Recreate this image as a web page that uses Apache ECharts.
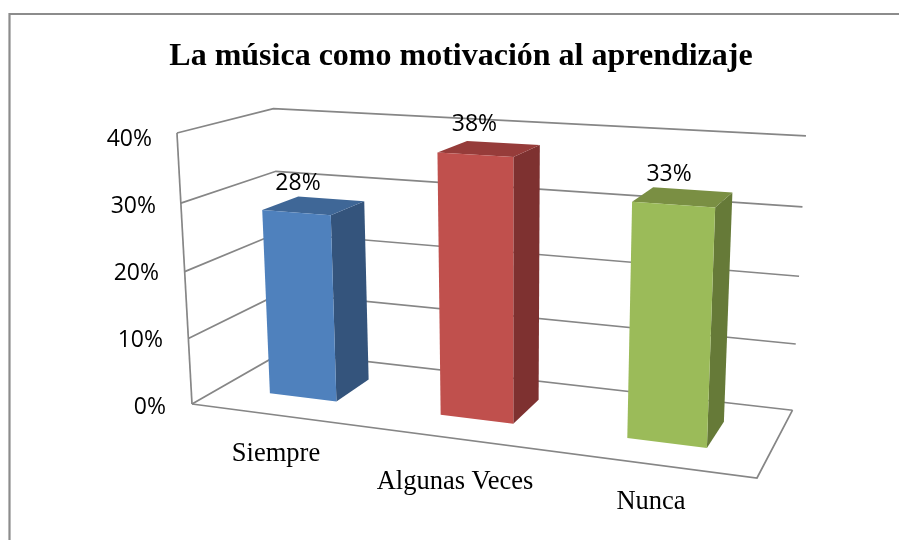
<!DOCTYPE html>
<html>
<head>
<meta charset="utf-8">
<style>html,body{margin:0;padding:0;background:#fff}#c{width:899px;height:540px}</style>
<script src="https://cdn.jsdelivr.net/npm/echarts@6/dist/echarts.min.js"></script>
</head>
<body>
<div id="c"></div>
<script>
// ---- data ----
const titleText = 'La música como motivación al aprendizaje';
const categories = ['Siempre', 'Algunas Veces', 'Nunca'];
const values = [0.28, 0.38, 0.33];
const valueLabels = ['28%', '38%', '33%'];
const yTicks = [0, 0.1, 0.2, 0.3, 0.4];
const yTickLabels = ['0%', '10%', '20%', '30%', '40%'];

// ---- palette ----
const frontColors = ['#4F81BD', '#C0504D', '#9BBB59'];
const sideColors = ['#34547C', '#7E3130', '#667A38'];
const topColors = ['#3F6797', '#963C3A', '#7A8F43'];
const lineGray = '#868686';
const labelFont = 'Open Sans';
const labelSize = 23;

// ---- layout ----
const grid = {left: 170, top: 138, width: 600, height: 268};
const yLabelPadRight = [0, 3, 7, 10, 14];
const xLabelShift = [6, -15, -19];
const xLabelDrop = [35, 63, 83];
const barWidthRatio = 0.4;
const depthFront = 0.3, depthBack = 0.7;
const valueLabelShift = [[-16, -22], [-15, -24], [-14, -23]];

// Perspective: homogeneous origin + u*U + v*V + w*W for the flat grid's
// normalised position (u, v) and a depth w into the scene.
const O = [192, 404, 1];
const U = [466.2, 11.6, -0.1305];
const V = [-23.0, -277.0, -0.045];
const W = [124.4, -10.5, 0.118];
function project(u, v, w) {
  const h = [0, 1, 2].map(i => O[i] + u * U[i] + v * V[i] + w * W[i]);
  return [h[0] / h[2], h[1] / h[2]];
}
function toUV(p) {
  return [(p[0] - grid.left) / grid.width, (grid.top + grid.height - p[1]) / grid.height];
}
const lineStyle = {stroke: lineGray, lineWidth: 1.7, fill: null};
const poly = (pts, style) => ({type: 'polygon', shape: {points: pts}, style});
const path = pts => ({type: 'polyline', shape: {points: pts}, style: lineStyle});

function renderWalls(params, api) {
  const yVal = api.value(0);
  const v = toUV(api.coord([0, yVal]))[1];
  const children = [path([project(0, v, 0), project(0, v, 1), project(1, v, 1)])];
  if (params.dataIndex === yTicks.length - 1) {
    children.push(path([project(0, 0, 0), project(0, 1, 0)]));
  }
  if (params.dataIndex === 0) {
    children.push(path([project(0, 0, 0), project(1, 0, 0), project(1, 0, 1)]));
  }
  return {type: 'group', children};
}

function renderBar(params, api) {
  const i = api.value(0);
  const base = toUV(api.coord([i, 0]));
  const top = toUV(api.coord([i, api.value(1)]));
  const half = toUV([grid.left + api.size([1, 0])[0] * barWidthRatio / 2, 0])[0];
  const u0 = base[0] - half, u1 = base[0] + half;
  const v0 = base[1], v1 = top[1];
  const w0 = depthFront, w1 = depthBack;
  const label = project(base[0], v1, (w0 + w1) / 2);
  return {type: 'group', children: [
    poly([project(u1, v0, w0), project(u1, v0, w1), project(u1, v1, w1), project(u1, v1, w0)], {fill: sideColors[i]}),
    poly([project(u0, v1, w0), project(u1, v1, w0), project(u1, v1, w1), project(u0, v1, w1)], {fill: topColors[i]}),
    poly([project(u0, v0, w0), project(u1, v0, w0), project(u1, v1, w0), project(u0, v1, w0)], {fill: frontColors[i]}),
    {type: 'text', x: label[0] + valueLabelShift[i][0], y: label[1] + valueLabelShift[i][1],
     style: {text: valueLabels[i], fill: '#000', font: labelSize + 'px "' + labelFont + '"', align: 'center', verticalAlign: 'middle'}}
  ]};
}

const yRich = {};
yLabelPadRight.forEach((p, i) => { yRich['t' + i] = {padding: [2, p, 0, 0], fontFamily: labelFont, fontSize: labelSize, color: '#000'}; });
const xRich = {};
categories.forEach((c, i) => {
  const s = xLabelShift[i];
  xRich['c' + i] = {
    padding: [xLabelDrop[i], s < 0 ? -2 * s : 0, 0, s > 0 ? 2 * s : 0],
    fontFamily: 'Liberation Serif', fontSize: 26.5, color: '#000'
  };
});

const chart = echarts.init(document.getElementById('c'));
chart.setOption({
  animation: false,
  backgroundColor: '#fff',
  title: {
    text: titleText, left: 456, top: 36, textAlign: 'center',
    textStyle: {fontFamily: 'Liberation Serif', fontWeight: 'bold', fontSize: 32, color: '#000'}
  },
  grid: grid,
  xAxis: {
    type: 'category', data: categories,
    axisLine: {show: false}, axisTick: {show: false}, splitLine: {show: false},
    axisLabel: {margin: 0, interval: 0, rich: xRich,
      formatter: (c) => `{c${categories.indexOf(c)}|${c}}`}
  },
  yAxis: {
    type: 'value', min: 0, max: 0.4, interval: 0.1,
    axisLine: {show: false}, axisTick: {show: false}, splitLine: {show: false},
    axisLabel: {margin: 4, rich: yRich,
      formatter: (val) => { const k = Math.round(val * 10); return `{t${k}|${yTickLabels[k]}}`; }}
  },
  graphic: [{
    type: 'polyline', silent: true,
    shape: {points: [[9.5, 540], [9.5, 14], [899, 14]]},
    style: {stroke: '#8C8C8C', lineWidth: 2.2, fill: null}
  }],
  series: [
    {type: 'custom', name: 'walls', coordinateSystem: 'cartesian2d', renderItem: renderWalls, silent: true, z: 1,
     encode: {x: 1, y: 0}, data: yTicks.map(t => [t, 0])},
    {type: 'custom', name: 'bars', coordinateSystem: 'cartesian2d', renderItem: renderBar, silent: true, z: 2,
     encode: {x: 0, y: 1}, data: values.map((v, i) => [i, v])}
  ]
});
</script>
</body>
</html>
